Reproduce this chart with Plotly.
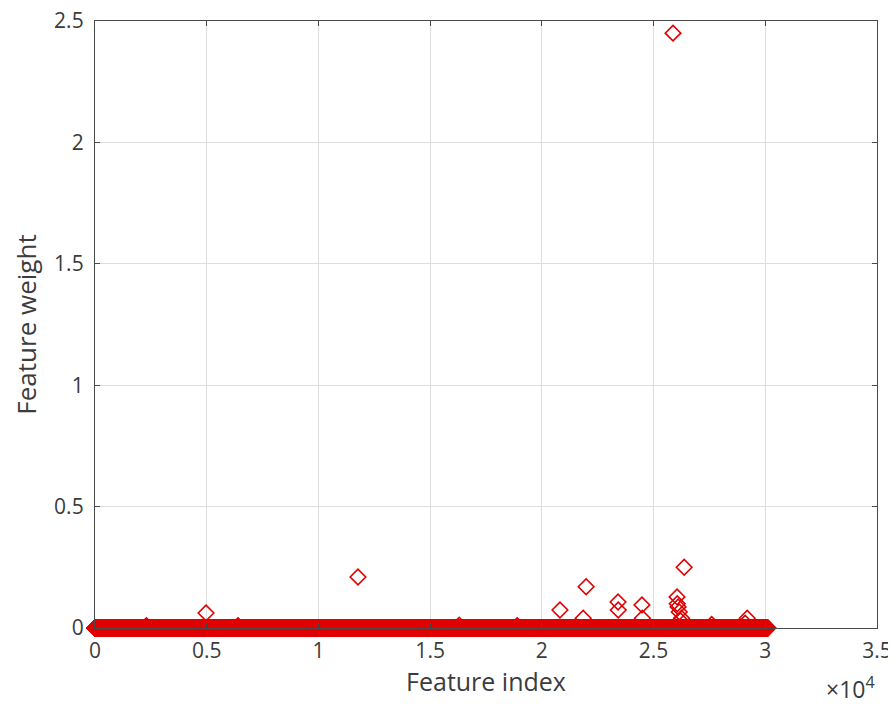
import numpy as np
import plotly.graph_objects as go

# ---- data ----
n_features = 30100                      # feature indices 1..30100
outlier_index = [4970, 11770, 20810, 21980, 21850, 23410, 23420, 24480, 24500,
                 25870, 26370, 26050, 26060, 26100, 26150, 26250, 26200, 29190,
                 29100, 2300, 6400, 16300, 18900, 27600]
outlier_weight = [0.062, 0.21, 0.074, 0.17, 0.04, 0.107, 0.074, 0.095, 0.04,
                  2.45, 0.25, 0.128, 0.10, 0.087, 0.066, 0.04, 0.03, 0.04,
                  0.02, 0.01, 0.01, 0.012, 0.01, 0.015]
x_tickvals = [0, 5000, 10000, 15000, 20000, 25000, 30000, 35000]
x_ticktext = ["0", "0.5", "1", "1.5", "2", "2.5", "3", "3.5"]
y_tickvals = [0, 0.5, 1, 1.5, 2, 2.5]
y_ticktext = ["0", "0.5", "1", "1.5", "2", "2.5"]

feature_index = np.arange(1, n_features + 1)
feature_weight = np.zeros(n_features)
feature_weight[np.array(outlier_index) - 1] = outlier_weight

fig = go.Figure()
fig.add_trace(go.Scatter(
    x=feature_index, y=feature_weight, mode="markers",
    marker=dict(symbol="diamond-open", size=12, color="#e00000",
                line=dict(width=1.6, color="#e00000")),
    cliponaxis=False, hoverinfo="skip", showlegend=False))

axis_color = "#4a4a4a"
font_color = "#3c3c3c"
fig.update_layout(
    width=888, height=696,
    margin=dict(l=87, r=19, t=13, b=76, autoexpand=False),
    paper_bgcolor="white", plot_bgcolor="white",
    font=dict(family="Open Sans", size=21, color=font_color),
    xaxis=dict(range=[0, 35000], tickvals=x_tickvals, ticktext=x_ticktext,
               automargin=False, ticklabeloverflow="allow",
               showgrid=True, gridcolor="#dddddd", gridwidth=1,
               showline=True, linecolor=axis_color, linewidth=1.3, mirror="ticks",
               ticks="inside", ticklen=5, tickcolor=axis_color, zeroline=False,
               ticklabelstandoff=4,
               title=dict(text="Feature index", font=dict(size=25, color=font_color),
                          standoff=0)),
    yaxis=dict(range=[0, 2.5], tickvals=y_tickvals, ticktext=y_ticktext,
               automargin=False, ticklabeloverflow="allow",
               showgrid=True, gridcolor="#dddddd", gridwidth=1,
               showline=True, linecolor=axis_color, linewidth=1.3, mirror="ticks",
               ticks="inside", ticklen=5, tickcolor=axis_color, zeroline=False,
               ticklabelstandoff=6,
               title=dict(text="Feature weight", font=dict(size=26, color=font_color),
                          standoff=12)),
    annotations=[dict(text="×10<sup>4</sup>", xref="paper", yref="paper",
                      x=1.0, y=-0.099, xanchor="right", yanchor="middle",
                      showarrow=False, font=dict(size=23, color=font_color))],
)

fig.write_html("out.html")
